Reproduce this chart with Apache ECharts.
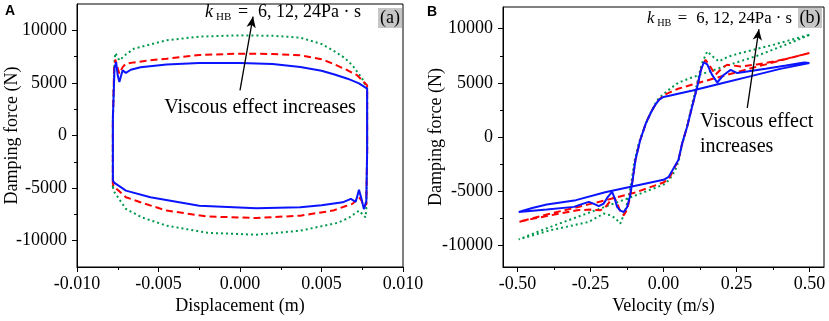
<!DOCTYPE html>
<html>
<head>
<meta charset="utf-8">
<script src="https://cdn.jsdelivr.net/npm/echarts@6/dist/echarts.min.js"></script>
<style>
  html, body { margin: 0; padding: 0; background: #fff; }
  #chart { width: 829px; height: 321px; }
</style>
</head>
<body>
<div id="chart"></div>
<script>
// tick positions
const dispMajor = [-0.01, -0.005, 0, 0.005, 0.01];
const dispMinor = [-0.0075, -0.0025, 0.0025, 0.0075];
const velMajor = [-0.5, -0.25, 0, 0.25, 0.5];
const velMinor = [-0.375, -0.125, 0.125, 0.375];
const forceMajor = [-10000, -5000, 0, 5000, 10000];
const forceMinor = [-7500, -2500, 2500, 7500];

// panel A: [displacement (m), force (N)], k_HB = 6 / 12 / 24
const loopA6 = [
  [-0.0078,-4300],[-0.0078,1500],[-0.0077,6400],[-0.0076,6980],[-0.0075,5700],[-0.0074,5080],
  [-0.0073,5650],[-0.0072,6190],[-0.007,5950],[-0.0067,6250],[-0.0061,6480],[-0.0045,6760],
  [-0.0025,6880],[0,6890],[0.002,6800],[0.0037,6520],[0.005,6150],[0.0058,5800],[0.0066,5400],
  [0.0073,4950],[0.0078,4450],[0.0078,-1500],[0.00775,-6200],[0.0076,-7000],[0.00745,-6000],
  [0.0073,-5170],[0.0071,-6300],[0.0068,-6030],[0.0063,-6350],[0.005,-6620],[0.0037,-6830],
  [0.001,-6920],[-0.0025,-6670],[-0.0055,-5870],[-0.007,-5240],[-0.0077,-4500],[-0.0078,-4300]
];
const loopA12 = [
  [-0.0078,-4600],[-0.0078,1500],[-0.00772,6500],[-0.00765,7210],[-0.0075,6400],[-0.0074,5870],
  [-0.0072,6500],[-0.007,6830],[-0.0065,6950],[-0.0055,7150],[-0.0045,7300],[-0.0025,7650],
  [0,7780],[0.002,7750],[0.0037,7620],[0.005,7250],[0.0057,6830],[0.0066,6200],[0.0072,5710],
  [0.0078,4760],[0.0078,-1500],[0.00775,-6500],[0.0076,-6830],[0.00746,-6190],[0.0073,-5870],
  [0.0069,-6500],[0.0065,-6700],[0.0057,-7140],[0.0037,-7620],[0.001,-7840],[-0.002,-7700],
  [-0.0045,-7140],[-0.006,-6400],[-0.007,-5870],[-0.0077,-4900],[-0.0078,-4600]
];
const loopA24 = [
  [-0.0078,-4900],[-0.0078,1500],[-0.0077,7000],[-0.00765,7840],[-0.0074,7140],[-0.007,7700],
  [-0.0065,8260],[-0.0045,9050],[-0.0025,9400],[0,9520],[0.002,9480],[0.0037,9300],[0.005,8700],
  [0.0057,8100],[0.0064,7400],[0.0069,6670],[0.0075,5400],[0.0078,4450],[0.0078,-1500],
  [0.00775,-7000],[0.0077,-7780],[0.0073,-7140],[0.0067,-7800],[0.006,-8300],[0.0037,-9050],
  [0.001,-9430],[-0.002,-9250],[-0.0045,-8570],[-0.006,-7800],[-0.007,-6980],[-0.0077,-5400],
  [-0.0078,-4900]
];

// panel B: [velocity (m/s), force (N)]
const loopB6 = [
  [0.5,6820],[0.4,6290],[0.3,5620],[0.2,4960],[0.1,4300],[0.05,4000],[0.02,3800],[0,3700],
  [-0.015,3450],[-0.03,2900],[-0.045,2150],[-0.06,1300],[-0.08,-300],[-0.096,-2100],[-0.106,-4000],
  [-0.115,-5500],[-0.125,-6500],[-0.136,-6920],[-0.148,-6800],[-0.159,-6450],[-0.168,-5600],
  [-0.176,-5060],[-0.19,-5500],[-0.205,-6150],[-0.222,-6390],[-0.24,-6150],[-0.256,-5990],
  [-0.28,-6200],[-0.307,-6450],[-0.4,-6700],[-0.496,-6920],[-0.5,-6880],[-0.45,-6550],
  [-0.4,-6230],[-0.3,-5830],[-0.2,-5100],[-0.1,-4520],[0,-3950],[0.018,-3680],[0.041,-2590],
  [0.051,-2130],[0.064,-580],[0.081,950],[0.098,2800],[0.116,4660],[0.127,6050],[0.138,6900],
  [0.15,6700],[0.165,5800],[0.184,5030],[0.205,5700],[0.23,6200],[0.253,5900],[0.287,6050],
  [0.35,6300],[0.42,6600],[0.482,6880],[0.5,6820]
];
const loopB12 = [
  [0.5,7750],[0.4,7050],[0.3,6350],[0.2,5600],[0.1,4850],[0.05,4450],[0.02,4100],[0,3850],
  [-0.02,3300],[-0.04,2450],[-0.06,1300],[-0.08,-300],[-0.096,-2100],[-0.106,-4000],
  [-0.115,-5600],[-0.125,-6700],[-0.136,-7220],[-0.148,-6900],[-0.16,-6000],[-0.17,-5530],
  [-0.185,-6000],[-0.2,-6500],[-0.216,-6760],[-0.25,-6700],[-0.296,-6760],[-0.4,-7300],
  [-0.445,-7530],[-0.496,-7840],[-0.5,-7800],[-0.4,-7150],[-0.3,-6500],[-0.2,-5850],
  [-0.1,-5150],[0,-4200],[0.02,-3800],[0.041,-2650],[0.051,-2150],[0.064,-600],[0.081,950],
  [0.098,2800],[0.116,4700],[0.13,6400],[0.144,7130],[0.16,6500],[0.178,5740],[0.198,6300],
  [0.218,6670],[0.264,6510],[0.32,6700],[0.378,6970],[0.44,7350],[0.5,7750]
];
const loopB24 = [
  [0.5,9420],[0.436,8700],[0.321,7500],[0.207,6500],[0.093,5450],[0.05,5000],[0.02,4400],
  [0,3950],[-0.016,3580],[-0.03,3000],[-0.045,2200],[-0.065,900],[-0.085,-600],[-0.1,-2300],
  [-0.11,-4100],[-0.12,-5600],[-0.132,-6900],[-0.148,-7990],[-0.165,-7500],[-0.182,-7220],
  [-0.205,-7070],[-0.256,-7840],[-0.388,-8610],[-0.496,-9450],[-0.5,-9420],[-0.4,-8420],
  [-0.3,-7430],[-0.2,-6440],[-0.1,-5440],[0,-4400],[0.02,-3950],[0.04,-3100],[0.052,-2200],
  [0.064,-700],[0.08,900],[0.096,2800],[0.113,4700],[0.13,6700],[0.15,7900],[0.17,7400],
  [0.19,6970],[0.22,7400],[0.264,7750],[0.378,8520],[0.5,9440]
];

const serif = 'Liberation Serif';
const black = '#000';
const colBlue = '#0a14ff';
const colRed = '#ff0000';
const colGreen = '#00994c';

function xMajor(grid, min, max, ticks, digits, name, nameGap) {
  return {
    type: 'value', gridIndex: grid, position: 'bottom', min: min, max: max,
    name: name, nameLocation: 'middle', nameGap: nameGap, nameMoveOverlap: false,
    nameTextStyle: { fontFamily: serif, fontSize: 18, color: black },
    axisLine: { onZero: false, lineStyle: { color: black, width: 1 } },
    axisTick: { customValues: ticks, length: 5, lineStyle: { color: black } },
    axisLabel: { customValues: ticks, margin: 8, fontFamily: serif, fontSize: 18, color: black,
      formatter: v => v.toFixed(digits) },
    splitLine: { show: false }
  };
}
function xMinor(grid, min, max, ticks) {
  return {
    type: 'value', gridIndex: grid, position: 'bottom', min: min, max: max,
    axisLine: { show: false, onZero: false },
    axisTick: { customValues: ticks, length: 3, lineStyle: { color: black } },
    axisLabel: { show: false }, splitLine: { show: false }
  };
}
function yMajor(grid, min, max, name, nameGap) {
  return {
    type: 'value', gridIndex: grid, position: 'left', min: min, max: max,
    name: name, nameLocation: 'middle', nameGap: nameGap, nameMoveOverlap: false,
    nameTextStyle: { fontFamily: serif, fontSize: 18, color: black },
    axisLine: { show: true, onZero: false, lineStyle: { color: black, width: 1 } },
    axisTick: { show: true, customValues: forceMajor, length: 5, lineStyle: { color: black } },
    axisLabel: { customValues: forceMajor, margin: 10, fontFamily: serif, fontSize: 18, color: black,
      formatter: v => String(v) },
    splitLine: { show: false }
  };
}
function yMinor(grid, min, max) {
  return {
    type: 'value', gridIndex: grid, position: 'left', min: min, max: max,
    axisLine: { show: false, onZero: false },
    axisTick: { show: true, customValues: forceMinor, length: 3, lineStyle: { color: black } },
    axisLabel: { show: false }, splitLine: { show: false }
  };
}

function loopSeries(data, xi, yi, color, type, z) {
  return {
    type: 'line', xAxisIndex: xi, yAxisIndex: yi, data: data, z: z,
    showSymbol: false, symbol: 'none', silent: true,
    lineStyle: { color: color, width: 2, type: type },
    emphasis: { disabled: true }
  };
}

const arrowStyle = {
  silent: true, symbol: ['none', 'arrow'], symbolSize: [7, 11],
  lineStyle: { color: black, width: 1.3, type: 'solid' }, label: { show: false }
};

const sA6 = loopSeries(loopA6, 0, 0, colBlue, 'solid', 4);
sA6.markLine = Object.assign({ data: [[{ coord: [0, 4290] }, { coord: [0.0008, 11300] }]] }, arrowStyle);
const sB6 = loopSeries(loopB6, 2, 2, colBlue, 'solid', 4);
sB6.markLine = Object.assign({ data: [[{ coord: [0.287, 2690] }, { coord: [0.327, 9950] }]] }, arrowStyle);

function txt(x, y, s, font) {
  return { type: 'text', x: x, y: y, z: 6,
    style: { text: s, font: font, fill: black, align: 'left', verticalAlign: 'middle' } };
}
// k_HB label, s = scale of the whole label
function kLabel(x, ymid, s) {
  return [
    txt(x, ymid, 'k', 'italic ' + 18 * s + 'px ' + serif),
    txt(x + 11 * s, ymid + 5 * s, 'HB', 11 * s + 'px ' + serif),
    txt(x + 33 * s, ymid, '=', 18 * s + 'px ' + serif),
    txt(x + 53 * s, ymid, '6, 12, 24Pa · s', 18 * s + 'px ' + serif)
  ];
}
function tagBox(x, y, label) {
  return [
    { type: 'rect', shape: { x: x, y: y, width: 24, height: 20 }, style: { fill: '#c6c6c6' }, z: 5 },
    { type: 'text', x: x + 12, y: y + 10, z: 6,
      style: { text: label, font: '18px ' + serif, fill: black, align: 'center', verticalAlign: 'middle' } }
  ];
}

const chart = echarts.init(document.getElementById('chart'), null, { renderer: 'canvas' });
chart.setOption({
  animation: false,
  backgroundColor: '#fff',
  grid: [
    { left: 77, top: 4, width: 326, height: 263, outerBoundsMode: 'none', containLabel: false,
      show: true, borderColor: black, borderWidth: 1, backgroundColor: 'transparent' },
    { left: 503, top: 7, width: 321, height: 260, outerBoundsMode: 'none', containLabel: false,
      show: true, borderColor: black, borderWidth: 1, backgroundColor: 'transparent' }
  ],
  xAxis: [
    xMajor(0, -0.01, 0.01, dispMajor, 3, 'Displacement (m)', 30),
    xMinor(0, -0.01, 0.01, dispMinor),
    xMajor(1, -0.55, 0.55, velMajor, 2, 'Velocity (m/s)', 30),
    xMinor(1, -0.55, 0.55, velMinor)
  ],
  yAxis: [
    yMajor(0, -12500, 12500, 'Damping force (N)', 56),
    yMinor(0, -12500, 12500),
    yMajor(1, -12000, 12000, 'Damping force (N)', 58),
    yMinor(1, -12000, 12000)
  ],
  series: [
    loopSeries(loopA24, 0, 0, colGreen, [2, 3], 2),
    loopSeries(loopA12, 0, 0, colRed, [7, 4], 3),
    sA6,
    loopSeries(loopB24, 2, 2, colGreen, [2, 3], 2),
    loopSeries(loopB12, 2, 2, colRed, [7, 4], 3),
    sB6
  ],
  graphic: [
    txt(5, 11, 'A', 'bold 14px Liberation Sans'),
    txt(427, 12, 'B', 'bold 14px Liberation Sans'),
    ...kLabel(205, 12.5, 1),
    ...kLabel(647, 18.5, 0.93),
    ...tagBox(378, 8, '(a)'),
    ...tagBox(798, 8, '(b)'),
    { type: 'text', x: 260, y: 108, z: 6, style: { text: 'Viscous effect increases', font: '20px ' + serif, fill: black, align: 'center', verticalAlign: 'middle' } },
    txt(700, 122, 'Viscous effect', '20px ' + serif),
    txt(700, 147, 'increases', '20px ' + serif)
  ]
});
</script>
</body>
</html>
